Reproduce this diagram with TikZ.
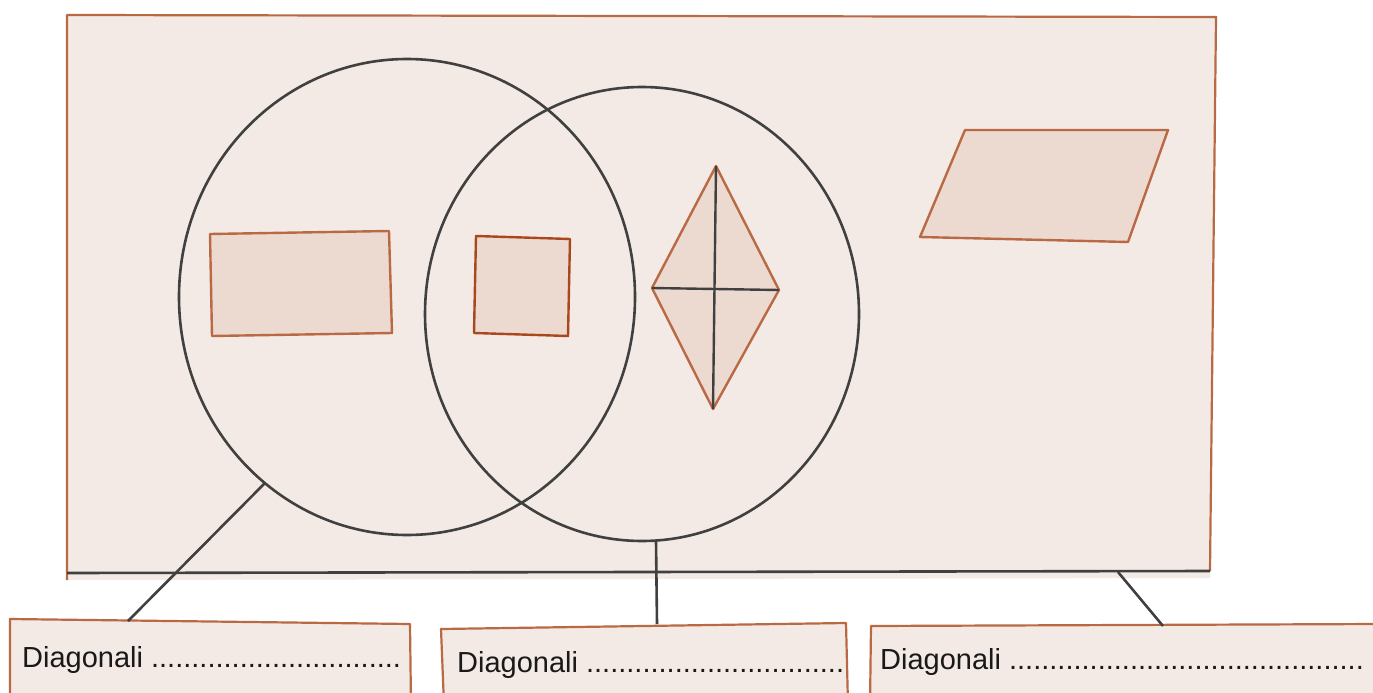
\documentclass[tikz,border=0pt]{standalone}
\usepackage{fontspec}
\setmainfont{Liberation Sans}
\definecolor{bgpink}{HTML}{F4EAE5}
\definecolor{shapefill}{HTML}{ECDAD1}
\definecolor{edge}{HTML}{B96A44}
\definecolor{edgedark}{HTML}{A8481C}
\definecolor{ink}{HTML}{404040}
\tikzset{
  frame/.style={draw=edge, line width=2.2pt, line join=round},
  shapebox/.style={draw=edge, fill=shapefill, line width=2.4pt, line join=round},
  setline/.style={draw=ink, line width=2.6pt},
  conn/.style={draw=ink, line width=2.6pt},
  label/.style={anchor=base west, inner sep=0pt, font=\fontsize{29}{33}\selectfont, text=black!90}
}
\begin{document}
\begin{tikzpicture}[x=1pt,y=-1pt]
\useasboundingbox (0,0) rectangle (1373,693);
\clip (0,0) rectangle (1373,693);
\fill[white] (0,0) rectangle (1373,693);
% main frame
\fill[bgpink] (67,15) -- (1216,17) -- (1210,578) -- (67,580) -- cycle;
\draw[frame] (67,580) -- (67,15) -- (1216,17) -- (1210,571);
\draw[setline] (67,573) -- (1210,571);
% sets
\draw[setline] (407,297) ellipse [x radius=228, y radius=238];
\draw[setline] (642,314) ellipse [x radius=217, y radius=227];
% rectangle
\draw[shapebox] (210,234) -- (389,231) -- (392,333) -- (212,336) -- cycle;
% square
\draw[shapebox, draw=edgedark] (476,236) -- (570,239) -- (568,336) -- (474,333) -- cycle;
% rhombus
\coordinate (rt) at (716,166);
\coordinate (rr) at (779,290);
\coordinate (rb) at (713,409);
\coordinate (rl) at (652,288);
\draw[shapebox] (rt) -- (rr) -- (rb) -- (rl) -- cycle;
\draw[setline, line width=2.4pt] (rt) -- (rb);
\draw[setline, line width=2.4pt] (rl) -- (rr);
% parallelogram
\draw[shapebox] (965,130) -- (1168,130) -- (1128,242) -- (920,237) -- cycle;
% label boxes
\draw[frame, fill=bgpink] (10,705) -- (10,619) -- (410,624) -- (411,705);
\draw[frame, fill=bgpink] (444,705) -- (441,629) -- (846,623) -- (848,705);
\draw[frame, fill=bgpink] (870,705) -- (871,626) -- (1380,624) -- (1380,705);
\node[label] (t1) at (22,667) {Diagonali ...............................};
\node[label] (t2) at (457,672) {Diagonali ................................};
\node[label] (t3) at (880,669) {Diagonali ............................................};
% connectors
\coordinate (c1) at (265,483);
\coordinate (b1) at (128,621);
\coordinate (c2) at (656,541);
\coordinate (b2) at (657,624);
\coordinate (c3) at (1118,572);
\coordinate (b3) at (1163,626);
\draw[conn] (c1) -- (b1);
\draw[conn] (c2) -- (b2);
\draw[conn] (c3) -- (b3);
\end{tikzpicture}
\end{document}
